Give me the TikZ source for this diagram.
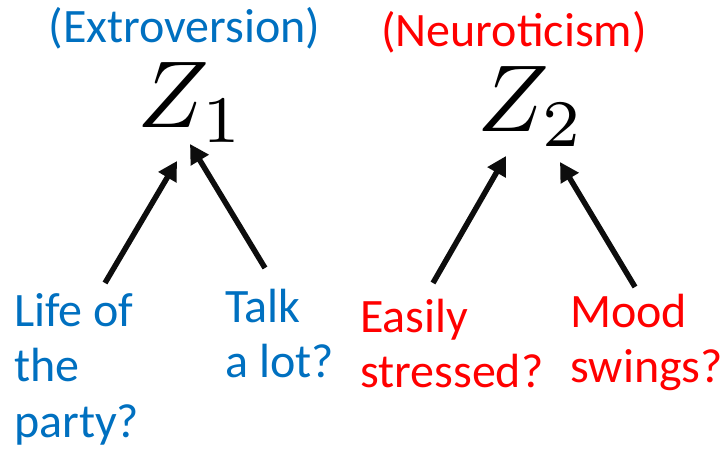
\documentclass[tikz,border=0pt]{standalone}
\usepackage{graphicx}
\usepackage{fontspec}
\setmainfont{Carlito}
\usetikzlibrary{arrows.meta}
\definecolor{eblue}{RGB}{0,112,192}
\definecolor{nred}{RGB}{255,0,0}
\newcommand{\stack}[1]{\vtop{\baselineskip=55.5pt\lineskiplimit=-100pt #1}}
\newcommand{\bigvar}[1]{\scalebox{9.5}{$#1$}}
\tikzset{
  lbl/.style={inner sep=0pt, anchor=base west, font=\fontsize{48}{56}\selectfont},
  trait/.style={inner sep=0pt, anchor=base, font=\fontsize{48}{56}\selectfont},
  zvar/.style={inner sep=0pt, anchor=base west},
  conn/.style={line width=5.5pt, -{Triangle[length=19pt,width=20pt]}, black!95}
}
\begin{document}
\begin{tikzpicture}[x=1pt,y=-1pt]
\useasboundingbox (0,0) rectangle (725,449);
% traits
\node[trait, text=eblue] (ext) at (184.5,43) {(Extroversion)};
\node[trait, text=nred] (neu) at (514,47) {(Neuroticism)};
% latent variables
\node[zvar] (z1) at (137,128) {\bigvar{Z_1}};
\node[zvar] (z2) at (477,132) {\bigvar{Z_2}};
% observed questions
\node[lbl, text=eblue] (life) at (14,326) {\stack{\hbox{Life of}\hbox{the}\hbox{party?}}};
\node[lbl, text=eblue] (talk) at (225,322) {\stack{\hbox{Talk}\hbox{a lot?}}};
\node[lbl, text=nred] (easy) at (360,332) {\stack{\hbox{Easily}\hbox{stressed?}}};
\node[lbl, text=nred] (mood) at (570,327) {\stack{\hbox{Mood}\hbox{swings?}}};
% connector ends
\coordinate (lifeT) at (105,283);
\coordinate (z1a) at (177,161);
\coordinate (talkT) at (265,268);
\coordinate (z1b) at (190,144);
\coordinate (easyT) at (433,283);
\coordinate (z2a) at (506,156);
\coordinate (moodT) at (635,287);
\coordinate (z2b) at (560,162);
\draw[conn] (lifeT) -- (z1a);
\draw[conn] (talkT) -- (z1b);
\draw[conn] (easyT) -- (z2a);
\draw[conn] (moodT) -- (z2b);
\end{tikzpicture}
\end{document}
